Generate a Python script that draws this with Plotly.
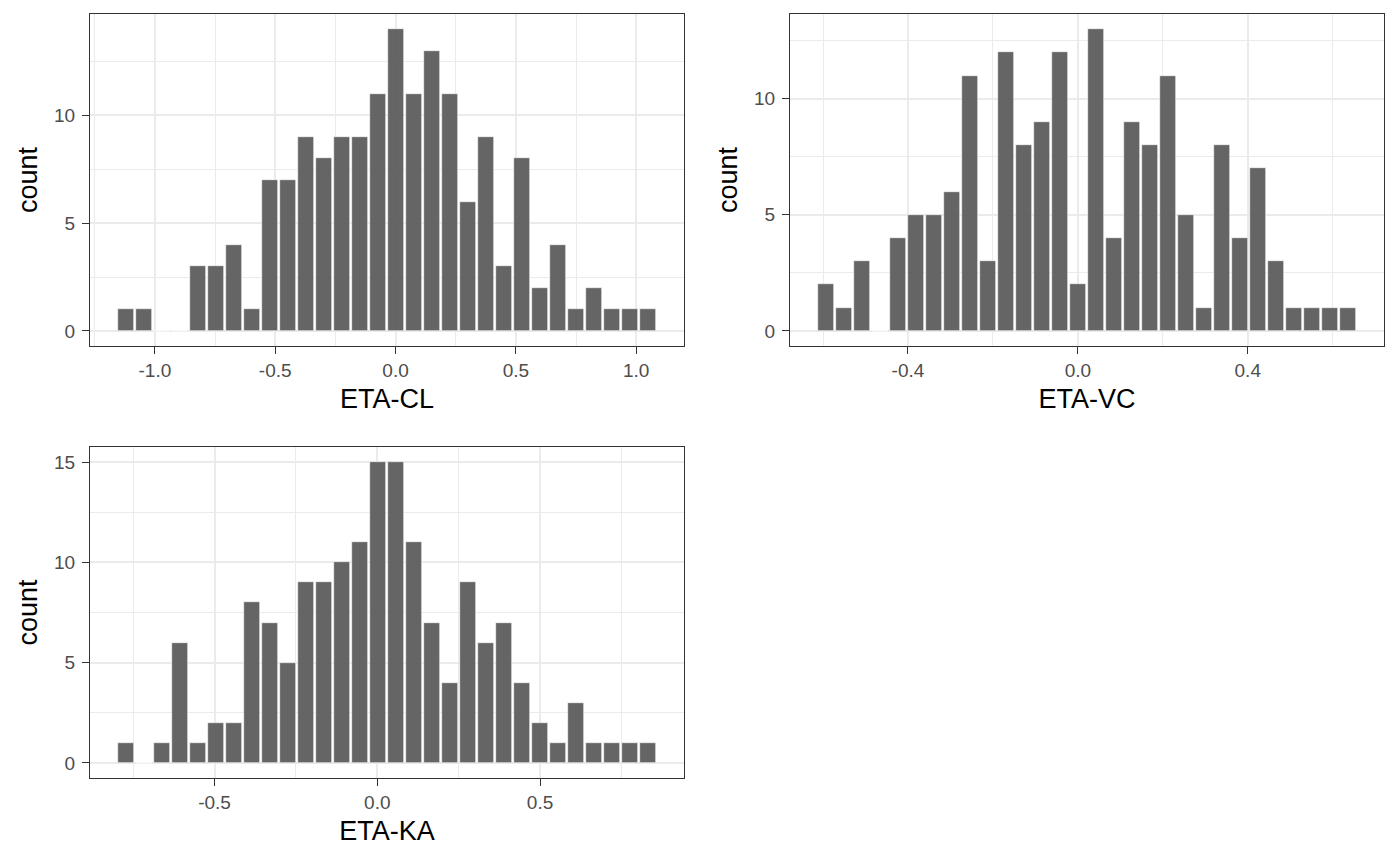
import plotly.graph_objects as go

# ---- data (30-bin histograms) ----
cl_counts = [1, 1, 0, 0, 3, 3, 4, 1, 7, 7, 9, 8, 9, 9, 11, 14, 11, 13, 11, 6, 9, 3, 8, 2, 4, 1, 2, 1, 1, 1]
cl_first_center = -1.12
cl_binwidth = 0.0748

vc_counts = [2, 1, 3, 0, 4, 5, 5, 6, 11, 3, 12, 8, 9, 12, 2, 13, 4, 9, 8, 11, 5, 1, 8, 4, 7, 3, 1, 1, 1, 1]
vc_first_center = -0.593
vc_binwidth = 0.04238

ka_counts = [1, 0, 1, 6, 1, 2, 2, 8, 7, 5, 9, 9, 10, 11, 15, 15, 11, 7, 4, 9, 6, 7, 4, 2, 1, 3, 1, 1, 1, 1]
ka_first_center = -0.772
ka_binwidth = 0.0553

panels = [
    ("ETA-CL", cl_counts, cl_first_center, cl_binwidth, [-1.0, -0.5, 0.0, 0.5, 1.0], ["-1.0", "-0.5", "0.0", "0.5", "1.0"], 0.5),
    ("ETA-VC", vc_counts, vc_first_center, vc_binwidth, [-0.4, 0.0, 0.4], ["-0.4", "0.0", "0.4"], 0.4),
    ("ETA-KA", ka_counts, ka_first_center, ka_binwidth, [-0.5, 0.0, 0.5], ["-0.5", "0.0", "0.5"], 0.5),
]

W, H = 1400, 865
OFF = 8  # page body margin


def xd(a, b):
    return [(a - OFF) / W, (b - OFF) / W]


def yd(top, bottom):
    return [1 - (bottom - OFF) / H, 1 - (top - OFF) / H]


domains = [
    (xd(90, 684), yd(14, 346)),
    (xd(790, 1384), yd(14, 346)),
    (xd(90, 684), yd(447, 778)),
]

FONT = "Liberation Sans, Arial, sans-serif"
GRID = "#EBEBEB"
BORDER = "#333333"

fig = go.Figure()
layout = {}
for k, (name, counts, c0, bw, tv, tt, step) in enumerate(panels):
    idx = "" if k == 0 else str(k + 1)
    centers = [c0 + i * bw for i in range(len(counts))]
    fig.add_trace(go.Bar(
        x=centers, y=counts, width=bw * 0.84,
        marker=dict(color="rgba(89,89,89,0.93)", line=dict(width=0.6, color="white")),
        xaxis="x" + idx, yaxis="y" + idx, showlegend=False,
        hovertemplate="x=%{x:.3f}<br>count=%{y}<extra></extra>",
    ))
    lo = centers[0] - bw / 2
    hi = centers[-1] + bw / 2
    pad = (hi - lo) * 0.05
    ymax = max(counts)
    (dx, dy) = domains[k]
    common = dict(
        showline=True, mirror=True, linecolor=BORDER, linewidth=1,
        ticks="outside", ticklen=7, tickwidth=1.2, tickcolor=BORDER,
        showgrid=True, gridcolor=GRID, gridwidth=2, zeroline=False,
        tickfont=dict(family=FONT, size=19, color="#4D4D4D"),
    )
    yt = [v for v in [0, 5, 10, 15] if v <= ymax]
    layout["xaxis" + idx] = dict(
        common, domain=dx, anchor="y" + idx, range=[lo - pad, hi + pad],
        tickvals=tv, ticktext=tt,
        minor=dict(showgrid=True, gridcolor=GRID, gridwidth=1, dtick=step / 2, tick0=0, ticks=""),
        title=dict(text=name, font=dict(family=FONT, size=27, color="black"), standoff=9),
    )
    layout["yaxis" + idx] = dict(
        common, domain=dy, anchor="x" + idx, range=[-ymax * 0.05, ymax * 1.05],
        tickvals=yt, ticktext=[str(v) for v in yt], ticklabelstandoff=3,
        minor=dict(showgrid=True, gridcolor=GRID, gridwidth=1, dtick=2.5, tick0=0, ticks=""),
        title=dict(text="count", font=dict(family=FONT, size=27, color="black"), standoff=8),
    )

fig.update_layout(
    width=W, height=H,
    margin=dict(l=0, r=0, t=0, b=0),
    paper_bgcolor="white", plot_bgcolor="white",
    bargap=0,
    font=dict(family=FONT),
    **layout,
)
fig.write_html("out.html")
